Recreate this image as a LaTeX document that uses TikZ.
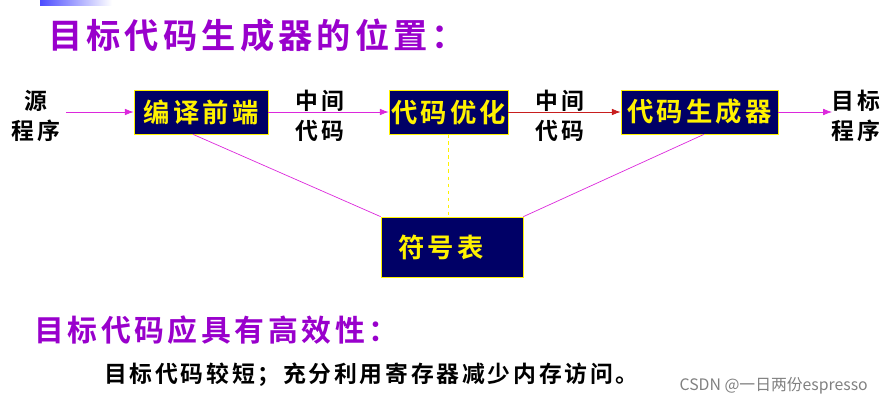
\documentclass[tikz,border=0pt]{standalone}
\usepackage{fontspec}
\newfontfamily\cjk[LetterSpace=12]{Noto Sans CJK SC Bold}
\newfontfamily\cjkn{Noto Sans CJK SC}
\usetikzlibrary{arrows.meta}
\definecolor{boxblue}{RGB}{0,0,102}
\definecolor{headpurple}{RGB}{153,0,204}
\definecolor{linkmag}{RGB}{220,40,220}
\definecolor{linkred}{RGB}{200,30,30}
\tikzset{
  stage/.style={draw=yellow, fill=boxblue, text=yellow, font=\cjk\fontsize{15}{15}\selectfont, inner sep=0pt},
  lbl/.style={font=\cjk\fontsize{13}{13}\selectfont, align=center},
  flow/.style={linkmag, -{Latex[length=5pt]}},
  link/.style={linkmag}
}
\begin{document}
\begin{tikzpicture}[x=0.02cm,y=-0.02cm]
  \useasboundingbox (0,0) rectangle (887,406);
  \shade[left color=blue!70, right color=white] (40,0) rectangle (112,5);
  \node[font=\cjk\fontsize{19.5}{19.5}\selectfont, text=headpurple, anchor=west] (title) at (42,35) {目标代码生成器的位置：};

  % stages
  \node[stage] (fe) at (201,112) [minimum width=2.68cm, minimum height=0.88cm] {编译前端};
  \node[stage] (opt) at (448.5,112) [minimum width=2.38cm, minimum height=0.88cm] {代码优化};
  \node[stage] (gen) at (699.5,112) [minimum width=3.14cm, minimum height=0.88cm] {代码生成器};
  \node[stage] (sym) at (452,247) [minimum width=2.84cm, minimum height=1.2cm, text width=2.84cm, align=left] {\hspace*{0.34cm}符号表};

  \node[lbl] (src) at (36,116) {源\\[4pt]程序};
  \node[lbl] (dst) at (856,116) {目标\\[4pt]程序};
  \node[lbl] (mid1) at (320,116) {中间\\[4pt]代码};
  \node[lbl] (mid2) at (560,116) {中间\\[4pt]代码};

  \coordinate (in) at (66,112);
  \coordinate (out) at (832,112);
  \draw[flow] (in) -- (fe.west);
  \draw[flow] (fe.east) -- (opt.west);
  \draw[flow, linkred] (opt.east) -- (gen.west);
  \draw[flow] (gen.east) -- (out);

  \draw[link] ([xshift=-0.16cm]fe.south) -- (sym.north west);
  \draw[yellow, dashed, dash pattern=on 2pt off 2pt] (opt.south) -- (opt.south |- sym.north);
  \draw[link] ([xshift=0.09cm]gen.south) -- (sym.north east);

  \node[font=\cjk\fontsize{17}{17}\selectfont, text=headpurple, anchor=west] (head2) at (28,330) {目标代码应具有高效性：};
  \node[font=\cjk\fontsize{13}{13}\selectfont, anchor=west] (note) at (98,375) {目标代码较短；充分利用寄存器减少内存访问。};
  \node[font=\cjkn\fontsize{9}{9}\selectfont, text=gray, anchor=east] (wm) at (874,386) {CSDN @一日两份espresso};
\end{tikzpicture}
\end{document}
